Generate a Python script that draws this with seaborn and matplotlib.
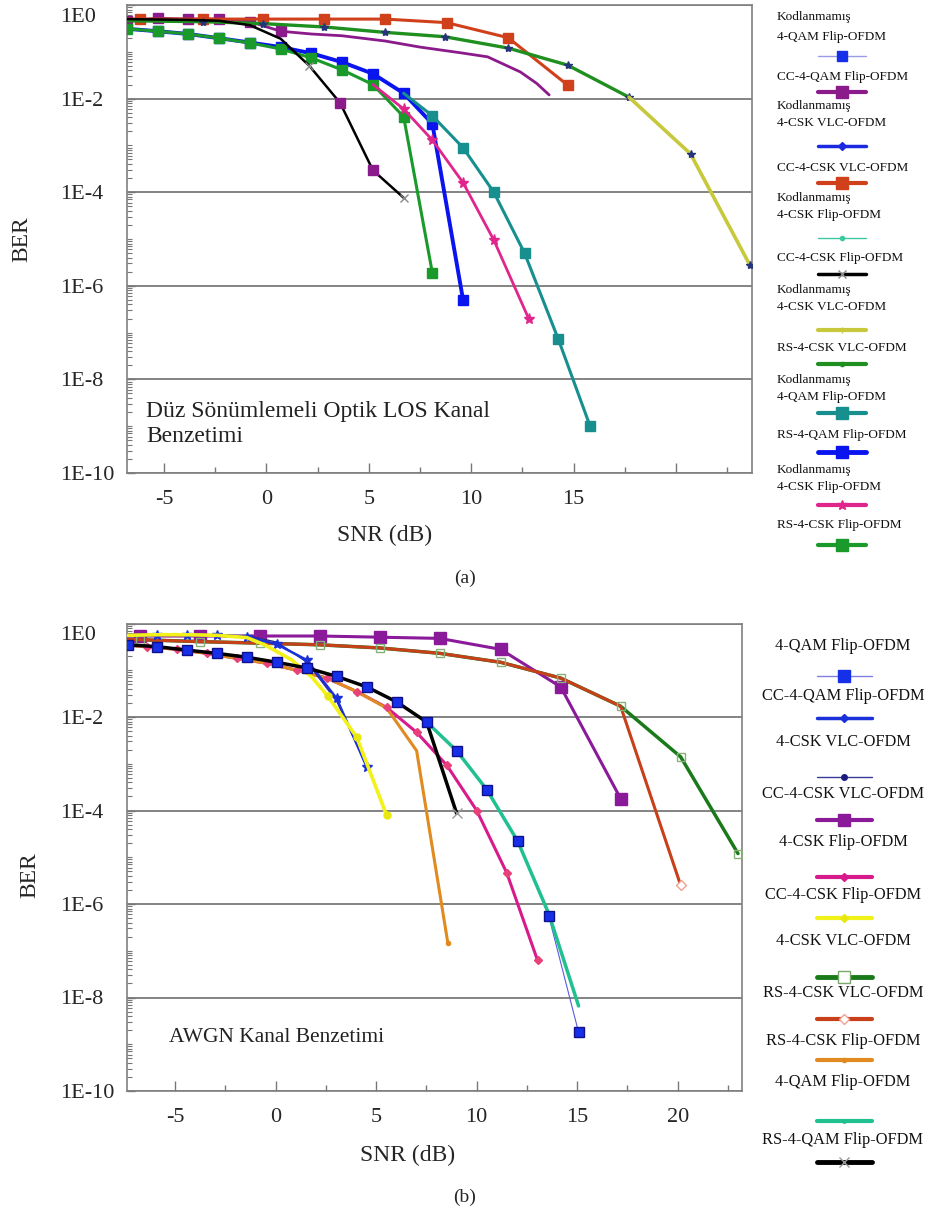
import numpy as np
import pandas as pd
import matplotlib
matplotlib.use("Agg")
import matplotlib.pyplot as plt
import matplotlib.transforms as mtransforms
import seaborn as sns
from matplotlib.ticker import FixedLocator, LogLocator, MultipleLocator, NullFormatter

# ---------------- DATA (panel a: flat-fading optical LOS) ----------------
A_RED_X = [-6.8, -6.15, -3.1, -0.15, 2.8, 5.8, 8.8, 11.8, 14.7]
A_RED_Y = [0.50, 0.50, 0.50, 0.50, 0.50, 0.50, 0.42, 0.20, 0.0195]
A_PUR_X = [-6.8, -5.3, -3.8, -2.3, -0.8, 0.7, 2.2, 3.7, 5.8, 7.5, 9.5, 10.8, 12.4, 13.2, 13.8]
A_PUR_Y = [0.46, 0.52, 0.50, 0.50, 0.44, 0.275, 0.24, 0.22, 0.17, 0.126, 0.095, 0.078, 0.037, 0.021, 0.012]
A_GRN_X = [-6.8, -3.1, -0.15, 2.8, 5.8, 8.7, 11.8, 14.7, 17.7]
A_GRN_Y = [0.46, 0.44, 0.40, 0.34, 0.26, 0.21, 0.12, 0.052, 0.0107]
A_YEL_X = [17.7, 20.7, 23.6]
A_YEL_Y = [0.0107, 6.6e-4, 2.75e-6]
A_BLK_X = [-6.8, -5.3, -3.8, -2.3, -0.8, 0.7, 2.1, 3.6, 5.2, 6.7]
A_BLK_Y = [0.50, 0.49, 0.48, 0.46, 0.37, 0.19, 0.05, 0.0081, 2.95e-4, 7.6e-5]
A_GSQ_X = [-6.8, -5.3, -3.8, -2.3, -0.8, 0.7, 2.2, 3.7, 5.2, 6.7, 8.1]
A_GSQ_Y = [0.31, 0.275, 0.24, 0.195, 0.155, 0.115, 0.074, 0.041, 0.020, 0.0041, 1.9e-6]
A_BLU_X = [-6.8, -5.3, -3.8, -2.3, -0.8, 0.7, 2.2, 3.7, 5.2, 6.7, 8.1, 9.6]
A_BLU_Y = [0.31, 0.275, 0.24, 0.195, 0.158, 0.126, 0.093, 0.060, 0.034, 0.013, 0.0029, 5.0e-7]
A_TEA_X = [6.7, 8.1, 9.6, 11.1, 12.6, 14.25, 15.8]
A_TEA_Y = [0.013, 0.0043, 8.9e-4, 1.0e-4, 5.0e-6, 7.2e-8, 1.0e-9]
A_MAG_X = [5.2, 6.7, 8.1, 9.6, 11.1, 12.8]
A_MAG_Y = [0.020, 0.006, 0.0013, 1.6e-4, 9.5e-6, 2.0e-7]

# ---------------- DATA (panel b: AWGN) ----------------
B_PUR_X = [-7.36, -6.77, -3.78, -0.80, 2.19, 5.17, 8.16, 11.19, 14.18, 17.16]
B_PUR_Y = [0.54, 0.54, 0.54, 0.54, 0.54, 0.51, 0.48, 0.28, 0.044, 1.8e-4]
B_GRN_X = [-7.36, -6.77, -3.78, -0.80, 2.19, 5.17, 8.16, 11.19, 14.18, 17.16, 20.15, 23.0]
B_GRN_Y = [0.46, 0.45, 0.41, 0.38, 0.35, 0.30, 0.23, 0.148, 0.068, 0.017, 0.0014, 1.2e-5]
B_RED_X = [-7.36, -6.77, -3.78, -0.80, 2.19, 5.17, 8.16, 11.19, 14.18, 17.16, 20.15]
B_RED_Y = [0.46, 0.45, 0.41, 0.38, 0.35, 0.30, 0.23, 0.148, 0.068, 0.017, 2.5e-6]
B_BLK_X = [-7.36, -5.9, -4.43, -2.94, -1.44, 0.05, 1.54, 3.03, 4.53, 6.02, 7.51, 9.0]
B_BLK_Y = [0.35, 0.32, 0.27, 0.23, 0.19, 0.148, 0.112, 0.074, 0.044, 0.021, 0.0078, 8.7e-5]
B_LBL_X = [-7.36, -5.9, -4.43, -2.94, -1.44, 0.05, 1.54, 3.03, 4.53, 6.02, 7.51, 9.0, 10.5, 12.04, 13.58, 15.07]
B_LBL_Y = [0.35, 0.32, 0.27, 0.23, 0.19, 0.148, 0.112, 0.074, 0.044, 0.021, 0.0078, 0.0019, 2.8e-4, 2.2e-5, 5.6e-7, 1.8e-9]
B_MNT_X = [7.51, 9.0, 10.5, 12.04, 13.58, 15.07]
B_MNT_Y = [0.0078, 0.0019, 2.8e-4, 2.2e-5, 6.3e-7, 6.6e-9]
B_MAG_X = [-7.36, -6.42, -4.93, -3.43, -1.94, -0.45, 1.04, 2.54, 4.03, 5.52, 7.01, 8.51, 10.0, 11.49, 13.03]
B_MAG_Y = [0.34, 0.32, 0.28, 0.23, 0.18, 0.141, 0.10, 0.068, 0.035, 0.016, 0.0047, 9.3e-4, 1.0e-4, 4.7e-6, 6.2e-8]
B_ORG_X = [-7.36, -6.42, -4.93, -3.43, -1.94, -0.45, 1.04, 2.54, 4.03, 5.52, 7.01, 8.56]
B_ORG_Y = [0.34, 0.32, 0.28, 0.23, 0.18, 0.141, 0.10, 0.068, 0.035, 0.0155, 0.0019, 1.5e-7]
B_YEL_X = [-7.36, -5.9, -4.43, -2.94, -1.44, -0.55, 0.8, 1.8, 2.59, 4.03, 5.52]
B_YEL_Y = [0.56, 0.575, 0.575, 0.56, 0.50, 0.35, 0.166, 0.071, 0.028, 0.0037, 7.9e-5]
B_BLU_X = [-7.36, -5.9, -4.43, -2.94, -1.44, 0.05, 1.54, 3.03, 4.53]
B_BLU_Y = [0.54, 0.575, 0.575, 0.56, 0.52, 0.36, 0.166, 0.025, 8.5e-4]
B_NAV_X = [-7.36, -1.44, 0.05, 1.54, 3.03, 4.53]
B_NAV_Y = [0.60, 0.55, 0.40, 0.15, 0.022, 9.0e-4]

Y_TICKS = [1e0, 1e-2, 1e-4, 1e-6, 1e-8, 1e-10]
Y_TICKLABELS = ["1E0", "1E-2", "1E-4", "1E-6", "1E-8", "1E-10"]
A_XTICKS = [-5, 0, 5, 10, 15, 20]
A_XTICKLABELS = ["-5", "0", "5", "10", "15", ""]
B_XTICKS = [-5, 0, 5, 10, 15, 20]
B_XTICKLABELS = ["-5", "0", "5", "10", "15", "20"]

A_LEGEND = [
    (["Kodlanmamış", "4-QAM Flip-OFDM"], dict(color="#9a9ae6", lw=1.0, marker="s", ms=7, mfc="#1530e8", mec="#1530e8")),
    (["CC-4-QAM Flip-OFDM"], dict(color="#8b1a8b", lw=3.0, marker="s", ms=8, mfc="#8b1a8b", mec="#8b1a8b")),
    (["Kodlanmamış", "4-CSK VLC-OFDM"], dict(color="#1a2ae0", lw=2.5, marker="D", ms=4, mfc="#1a2ae0", mec="#1a2ae0")),
    (["CC-4-CSK VLC-OFDM"], dict(color="#d0401a", lw=3.0, marker="s", ms=8, mfc="#d0401a", mec="#d0401a")),
    (["Kodlanmamış", "4-CSK Flip-OFDM"], dict(color="#3cc8a0", lw=1.0, marker="o", ms=3, mfc="#3cc8a0", mec="#3cc8a0")),
    (["CC-4-CSK Flip-OFDM"], dict(color="black", lw=2.5, marker="x", ms=6, mfc="#888888", mec="#888888")),
    (["Kodlanmamış", "4-CSK VLC-OFDM"], dict(color="#c8c83c", lw=3.0, marker="+", ms=5, mfc="#c8c83c", mec="#c8c83c")),
    (["RS-4-CSK VLC-OFDM"], dict(color="#1f8f1f", lw=3.0, marker="o", ms=3, mfc="#1f8f1f", mec="#1f8f1f")),
    (["Kodlanmamış", "4-QAM Flip-OFDM"], dict(color="#178f8f", lw=3.0, marker="s", ms=8, mfc="#178f8f", mec="#178f8f")),
    (["RS-4-QAM Flip-OFDM"], dict(color="#0a14ef", lw=3.5, marker="s", ms=8, mfc="#0a14ef", mec="#0a14ef")),
    (["Kodlanmamış", "4-CSK Flip-OFDM"], dict(color="#e0258c", lw=3.0, marker="*", ms=7, mfc="#e0258c", mec="#e0258c")),
    (["RS-4-CSK Flip-OFDM"], dict(color="#1a9a2a", lw=3.0, marker="s", ms=8, mfc="#1a9a2a", mec="#1a9a2a")),
]
A_LEG_TEXT_Y = [17, 77, 106, 168, 198, 258, 290, 348, 380, 435, 470, 525]
A_LEG_LINE_Y = [56, 92, 146, 183, 238, 274, 330, 364, 413, 452, 505, 545]

B_LEGEND = [
    ("4-QAM Flip-OFDM", dict(color="#8080e0", lw=1.0, marker="s", ms=8, mfc="#1530e8", mec="#1530e8")),
    ("CC-4-QAM Flip-OFDM", dict(color="#1a30d8", lw=2.5, marker="D", ms=4.5, mfc="#1a30d8", mec="#1a30d8")),
    ("4-CSK VLC-OFDM", dict(color="#3a3a9a", lw=1.0, marker="o", ms=4, mfc="#1a1a80", mec="#1a1a80")),
    ("CC-4-CSK VLC-OFDM", dict(color="#8a1a9a", lw=3.0, marker="s", ms=9, mfc="#8a1a9a", mec="#8a1a9a")),
    ("4-CSK Flip-OFDM", dict(color="#d81b8c", lw=3.0, marker="D", ms=4.5, mfc="#d81b8c", mec="#d81b8c")),
    ("CC-4-CSK Flip-OFDM", dict(color="#f2f21a", lw=3.0, marker="D", ms=4.5, mfc="#e8e810", mec="#e8e810")),
    ("4-CSK VLC-OFDM", dict(color="#1a7a1a", lw=3.5, marker="s", ms=8, mfc="white", mec="#7aa86a")),
    ("RS-4-CSK VLC-OFDM", dict(color="#c8401a", lw=3.0, marker="D", ms=5, mfc="white", mec="#f0a090")),
    ("RS-4-CSK Flip-OFDM", dict(color="#e08a20", lw=3.0, marker="o", ms=3, mfc="#e08a20", mec="#e08a20")),
    ("4-QAM Flip-OFDM", dict(color="#20c090", lw=3.0, marker="o", ms=2.5, mfc="#20c090", mec="#20c090")),
    ("RS-4-QAM Flip-OFDM", dict(color="black", lw=3.5, marker="x", ms=7, mfc="#999999", mec="#999999")),
]
B_LEG_TEXT_Y = [646, 696, 742, 794, 842, 895, 941, 993, 1041, 1082, 1140]
B_LEG_LINE_Y = [676, 718, 777, 820, 877, 918, 977, 1019, 1060, 1121, 1162]

# ---------------- STYLE ----------------
sns.set_theme(style="white")
plt.rcParams["font.family"] = ["Liberation Serif", "DejaVu Serif"]

W, H = 927, 1217
fig = plt.figure(figsize=(W / 100, H / 100), dpi=100)
fig.patch.set_facecolor("white")

ax_a = fig.add_axes([127 / W, 1 - 473 / H, 625 / W, 468 / H])
ax_b = fig.add_axes([127 / W, 1 - 1091 / H, 615 / W, 467.5 / H])


def line(ax, x, y, color, lw, marker=None, ms=6, mfc=None, mec=None, mew=1.0,
         every=None, z=2, ls="-"):
    kw = dict(color=color, linewidth=lw, zorder=z, estimator=None, sort=False,
              legend=False, ax=ax, linestyle=ls)
    if marker:
        kw.update(marker=marker, markersize=ms,
                  markerfacecolor=mfc if mfc is not None else color,
                  markeredgecolor=mec if mec is not None else color,
                  markeredgewidth=mew)
        if every is not None:
            kw["markevery"] = every
    sns.lineplot(x=x, y=y, **kw)


def style_axes(ax, xlim, xticks, xticklabels):
    ax.set_yscale("log")
    ax.set_ylim(1e-10, 1.0)
    ax.set_xlim(*xlim)
    ax.set_facecolor("white")
    ax.yaxis.set_major_locator(FixedLocator(Y_TICKS))
    ax.set_yticklabels(Y_TICKLABELS)
    ax.yaxis.set_minor_locator(LogLocator(base=10, subs=np.arange(1, 10), numticks=200))
    ax.yaxis.set_minor_formatter(NullFormatter())
    ax.set_xticks(xticks)
    ax.set_xticklabels(xticklabels)
    ax.xaxis.set_minor_locator(MultipleLocator(2.5))
    ax.grid(True, axis="y", which="major", color="#7a7a7a", linewidth=1.3)
    ax.grid(False, axis="x")
    ax.tick_params(axis="x", which="major", direction="in", length=7, width=1,
                   color="#777777", labelsize=16, pad=12, bottom=True, top=False)
    ax.tick_params(axis="x", which="minor", direction="in", length=4, width=1,
                   color="#777777", bottom=True, top=False)
    ax.tick_params(axis="y", which="major", direction="in", length=6, width=1,
                   color="#777777", labelsize=16, pad=48, left=True, right=False)
    ax.tick_params(axis="y", which="minor", direction="in", length=3.5, width=0.8,
                   color="#777777", left=True, right=False)
    shift = mtransforms.ScaledTranslation(0, -10 / 100, fig.dpi_scale_trans)
    for lab in ax.get_yticklabels():
        lab.set_horizontalalignment("left")
        if lab.get_text() == "1E0":
            lab.set_transform(lab.get_transform() + shift)
    for s in ax.spines.values():
        s.set_color("#808080")
        s.set_linewidth(1.2)
        s.set_visible(True)
    ax.set_xlabel("SNR (dB)", fontsize=17)
    ax.set_ylabel("BER", fontsize=17)
    ax.xaxis.label.set_va("center")
    ax.yaxis.label.set_va("center")


# ---------------- PANEL (a) ----------------
style_axes(ax_a, (-6.8, 23.7), A_XTICKS, A_XTICKLABELS)
line(ax_a, A_BLU_X, A_BLU_Y, "#0a14ef", 2.8, "s", 7, every=list(range(1, 12)), z=3)
line(ax_a, A_GSQ_X, A_GSQ_Y, "#1a9a2a", 2.2, "s", 7, z=4)
line(ax_a, A_TEA_X, A_TEA_Y, "#178f8f", 2.2, "s", 7, every=list(range(1, 7)), z=3)
line(ax_a, A_MAG_X, A_MAG_Y, "#e0258c", 2.0, "*", 8, every=list(range(1, 6)), z=4)
line(ax_a, A_PUR_X, A_PUR_Y, "#8b1a8b", 2.0, "s", 7, every=[0, 1, 2, 3, 4, 5], z=3)
line(ax_a, A_RED_X, A_RED_Y, "#d0401a", 2.2, "s", 7, every=list(range(1, 9)), z=3)
line(ax_a, A_GRN_X, A_GRN_Y, "#1f8f1f", 2.4, "*", 6, mfc="#26357a", mec="#26357a",
     every=list(range(1, 9)), z=4)
line(ax_a, A_YEL_X, A_YEL_Y, "#c8c83c", 2.6, "*", 6, mfc="#26357a", mec="#26357a",
     every=[1, 2], z=4)
line(ax_a, A_BLK_X, A_BLK_Y, "black", 1.8, "x", 6, mfc="#888888", mec="#888888",
     every=[6, 9], z=5)
line(ax_a, A_BLK_X, A_BLK_Y, "#8b1a8b", 0, "s", 7, every=[7, 8], z=6, ls="none")

ax_a.xaxis.set_label_coords((385 - 127) / 625, (473 - 535) / 468)
ax_a.yaxis.set_label_coords((22 - 127) / 625, 0.5)
ax_a.text((146 - 127) / 625, (473 - 424) / 468,
          "Düz Sönümlemeli Optik LOS Kanal\nBenzetimi", transform=ax_a.transAxes,
          fontsize=17, ha="left", va="center", linespacing=1.2, color="#222222")

# ---------------- PANEL (b) ----------------
style_axes(ax_b, (-7.4, 23.2), B_XTICKS, B_XTICKLABELS)
line(ax_b, B_PUR_X, B_PUR_Y, "#8a1a9a", 2.2, "s", 8, every=list(range(1, 10)), z=3)
line(ax_b, B_GRN_X, B_GRN_Y, "#1a7a1a", 2.5, None, z=2)
line(ax_b, B_RED_X, B_RED_Y, "#c8401a", 2.2, "D", 5, mfc="white", mec="#f0a090",
     every=[10], z=3)
line(ax_b, B_GRN_X, B_GRN_Y, "#1a7a1a", 0, "s", 6, mfc="none", mec="#8ab07a",
     every=list(range(1, 12)), z=4, ls="none")
line(ax_b, B_LBL_X, B_LBL_Y, "#5a5ae0", 0.8, None, z=2)
line(ax_b, B_MNT_X, B_MNT_Y, "#20c090", 2.5, None, z=3)
line(ax_b, B_MAG_X, B_MAG_Y, "#d81b8c", 2.2, None, z=3)
line(ax_b, B_ORG_X, B_ORG_Y, "#e08a20", 2.2, "o", 3, every=[11], z=4)
line(ax_b, B_MAG_X, B_MAG_Y, "#e8407a", 0, "D", 4.5, every=list(range(1, 15)), z=5,
     ls="none")
line(ax_b, B_BLK_X, B_BLK_Y, "black", 2.5, "x", 7, mfc="#999999", mec="#999999",
     every=[11], z=5)
line(ax_b, B_LBL_X, B_LBL_Y, "#1530e8", 0, "s", 7, mfc="#1530e8", mec="#10108a",
     every=list(range(0, 16)), z=6, ls="none")
line(ax_b, B_NAV_X, B_NAV_Y, "#2a2a8a", 1.0, "o", 3, every=[5], z=4)
line(ax_b, B_BLU_X, B_BLU_Y, "#1a30d8", 1.8, "*", 7, every=list(range(1, 9)), z=4)
line(ax_b, B_YEL_X, B_YEL_Y, "#f2f21a", 2.6, "o", 5, mfc="#e8e810", mec="#e8e810",
     every=[8, 9, 10], z=4)

ax_b.xaxis.set_label_coords((408 - 127) / 615, (1091 - 1155) / 467.5)
ax_b.yaxis.set_label_coords((30 - 127) / 615, (1091 - 875) / 467.5)
ax_b.text((169 - 127) / 615, (1091 - 1037) / 467.5, "AWGN Kanal Benzetimi",
          transform=ax_b.transAxes, fontsize=15.5, ha="left", va="center",
          color="#222222")

# ---------------- LEGENDS & CAPTIONS (overlay in pixel units) ----------------
ov = fig.add_axes([0, 0, 1, 1], zorder=10)
ov.set_xlim(0, W)
ov.set_ylim(H, 0)
ov.axis("off")
ov.patch.set_alpha(0)

for (lines_, st), ty, ly in zip(A_LEGEND, A_LEG_TEXT_Y, A_LEG_LINE_Y):
    gap = 20 if ty == 17 else 17
    for i, t in enumerate(lines_):
        ov.text(777, ty + i * gap, t, fontsize=9.5, ha="left", va="center", color="#111111")
    ov.plot([818, 842, 866], [ly, ly, ly], color=st["color"], lw=st["lw"],
            marker=st["marker"], ms=st["ms"], markevery=[1],
            markerfacecolor=st["mfc"], markeredgecolor=st["mec"])

for (t, st), ty, ly in zip(B_LEGEND, B_LEG_TEXT_Y, B_LEG_LINE_Y):
    ov.text(843, ty, t, fontsize=11.8, ha="center", va="center", color="#111111")
    ov.plot([817, 844, 872], [ly, ly, ly], color=st["color"], lw=st["lw"],
            marker=st["marker"], ms=st["ms"], markevery=[1],
            markerfacecolor=st["mfc"], markeredgecolor=st["mec"])

ov.text(465, 578, "(a)", fontsize=14, ha="center", va="center")
ov.text(465, 1197, "(b)", fontsize=14, ha="center", va="center")

fig.savefig("out.png", dpi=100, facecolor="white")
